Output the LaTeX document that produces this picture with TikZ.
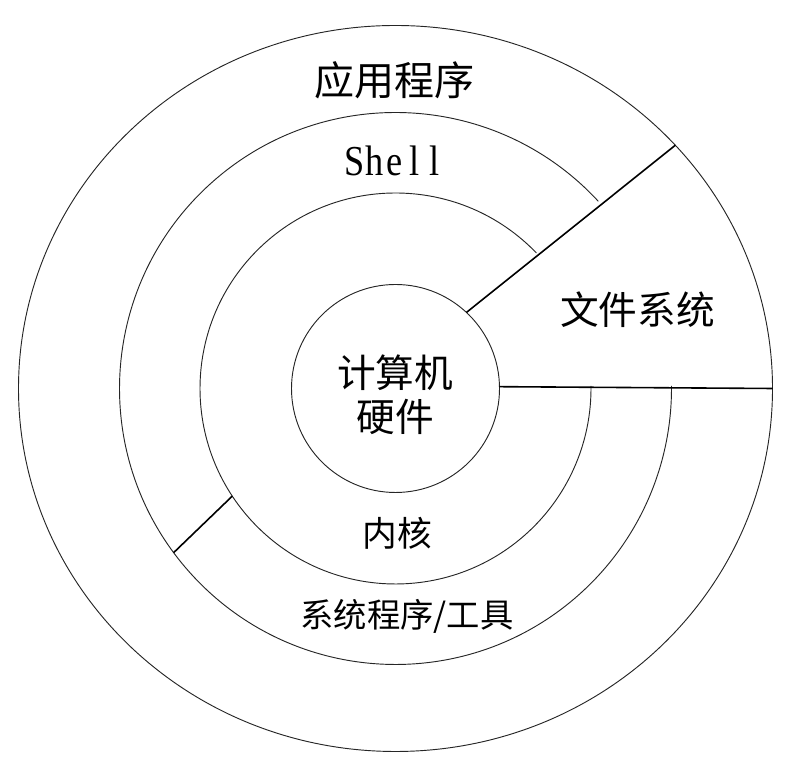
\documentclass[tikz,border=0pt]{standalone}
\usepackage{graphicx}
\usepackage{fontspec}
\setmainfont{Liberation Serif}
\newfontfamily\cjk{Noto Sans CJK SC}
\usetikzlibrary{shapes.geometric,calc}
% one fixed-width cell per Latin letter, slightly condensed
\newcommand{\cell}[1]{\makebox[15pt]{\scalebox{0.85}[1]{#1}}}
\begin{document}
\begin{tikzpicture}[x=0.75pt,y=0.75pt,
  ring/.style={draw=black!85, line width=0.7pt},
  divider/.style={draw=black, line width=1.2pt},
  zh/.style={font=\cjk\fontsize{#1}{33}\selectfont, inner sep=0pt, align=center},
  lat/.style={font=\fontsize{#1}{#1}\selectfont, inner sep=0pt}]
  \useasboundingbox (0,0) rectangle (796,780);

  % common centre of the rings
  \coordinate (O) at (395.5,391.5);

  % outermost ring and hardware core
  \node[ring, ellipse, minimum width=565.5pt, minimum height=544.5pt,
        inner sep=0pt, outer sep=0pt] (outer) at (O) {};
  \node[ring, circle, minimum size=156pt, inner sep=0pt, outer sep=0pt]
        (hw) at (O) {};

  % kernel and shell rings, open where the file-system wedge cuts through
  \draw[ring] ($(O)+(43.9:195.5)$) arc[start angle=43.9, end angle=360.73, radius=195.5];
  \draw[ring] ($(O)+(42.7:276)$) arc[start angle=42.7, end angle=360.52, radius=276];

  % wedge borders of the file system
  \draw[divider] (hw.47.6) -- (outer.41.8);
  \draw[divider] (hw.1.4) -- (outer.0.4);

  % divider between shell and system programs
  \coordinate (k1) at ($(O)+(213.4:195.5)$);
  \coordinate (k2) at ($(O)+(216.5:276)$);
  \draw[divider] (k1) -- (k2);

  % labels
  \node[zh=30] (app) at (394,700) {应用程序};
  \node[lat=32] (shell) at (395,619)
    {\cell{S}\cell{h}\cell{e}\cell{l}\cell{l}};
  \node[zh=29] (fs) at (637.5,470) {文件系统};
  \node[zh=29] (hwl) at (395,385) {计算机\\硬件};
  \node[zh=26] (kern) at (397,247) {内核};
  \node[zh=25] (sys) at (407,164) {系统程序/工具};
\end{tikzpicture}
\end{document}
